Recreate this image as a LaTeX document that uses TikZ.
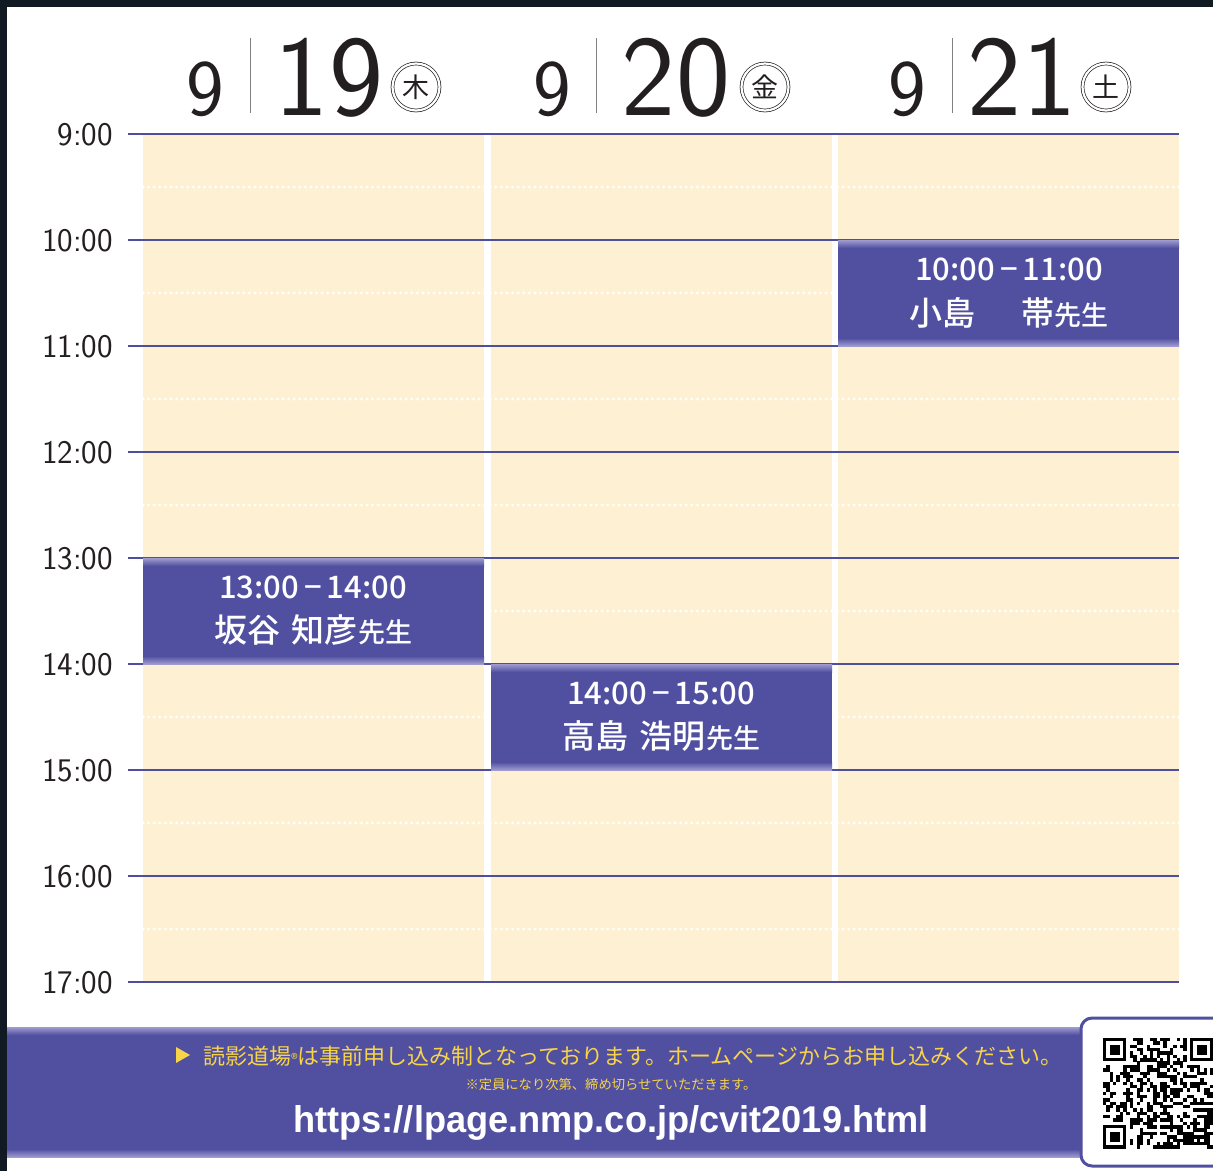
\documentclass[tikz,border=0pt]{standalone}
\usepackage{fontspec}
\usepackage{graphicx}
\newfontfamily\jpfont[BoldFont={Noto Sans CJK JP Medium}]{Noto Sans CJK JP}
\newfontfamily\urlfont{Liberation Sans}
\definecolor{evblue}{RGB}{81,80,160}
\definecolor{evlight}{RGB}{160,155,208}
\definecolor{hourblue}{RGB}{78,78,158}
\definecolor{cream}{RGB}{254,240,211}
\definecolor{framedark}{RGB}{17,26,34}
\definecolor{noteyellow}{RGB}{247,212,72}
\definecolor{inkgray}{RGB}{35,31,32}

\begin{document}
\begin{tikzpicture}[x=1pt, y=-1pt,
    hourline/.style={draw=hourblue, line width=1.3pt},
    halfdots/.style={draw=white, line width=3.2pt, line cap=round, dash pattern=on 0pt off 5.6pt},
    timelabel/.style={anchor=base east, inner sep=0pt, text=inkgray, font=\sffamily\fontsize{33}{33}\selectfont},
    daysmall/.style={anchor=base, inner sep=0pt, text=inkgray, font=\sffamily\fontsize{80}{80}\selectfont},
    daybig/.style={anchor=base, inner sep=0pt, text=inkgray, font=\sffamily\fontsize{115}{115}\selectfont},
    weekday/.style={circle, draw=inkgray, double, double distance=2.2pt, line width=0.7pt, minimum size=47pt, inner sep=0pt, text=inkgray, font=\jpfont\fontsize{27}{27}\selectfont},
    sepline/.style={draw=gray, line width=1pt},
    evtime/.style={anchor=base, inner sep=0pt, text=white, font=\jpfont\bfseries\fontsize{31}{31}\selectfont},
    evname/.style={anchor=base, inner sep=0pt, text=white, font=\jpfont\bfseries\fontsize{33}{33}\selectfont},
    note/.style={anchor=base west, inner sep=0pt, text=noteyellow, font=\jpfont\fontsize{22}{22}\selectfont},
    notesmall/.style={anchor=base, inner sep=0pt, text=noteyellow, font=\jpfont\fontsize{13.3}{13.3}\selectfont},
    urltext/.style={anchor=base, inner sep=0pt, text=white, font=\urlfont\bfseries}]
    \clip (0,0) rectangle (1213,1171);
    \fill[white] (0,0) rectangle (1213,1171);

    % day columns
    \foreach \x in {143,491,838} {
        \fill[cream] (\x,135) rectangle ++(341,846);
    }
    \foreach \i in {0,...,7} {
        \draw[halfdots] (143,{187+106*\i}) -- (1179,{187+106*\i});
    }
    \foreach \h [count=\i from 0] in {9,...,17} {
        \draw[hourline] (128,{134+106*\i}) -- (1179,{134+106*\i});
        \node[timelabel] (t\h) at (113,{145+106*\i}) {\h:00};
    }

    % header
    \node[daysmall] (m19) at (205,115) {9};
    \draw[sepline] (250,38) -- (250,113);
    \node[daybig] (d19) at (329,115) {19};
    \node[weekday] (w19) at (416,87) {木};

    \node[daysmall] (m20) at (552,115) {9};
    \draw[sepline] (596,38) -- (596,113);
    \node[daybig] (d20) at (676,115) {20};
    \node[weekday] (w20) at (765,87) {金};

    \node[daysmall] (m21) at (907,115) {9};
    \draw[sepline] (952,38) -- (952,113);
    \node[daybig] (d21) at (1022,115) {21};
    \node[weekday] (w21) at (1106,87) {土};

    % sessions
    \foreach \x/\y in {838/240, 143/558, 491/664} {
        \fill[evblue] (\x,\y) rectangle ++(341,106);
        \shade[top color=evlight, bottom color=evblue] (\x,\y) rectangle ++(341,8);
        \shade[top color=evblue, bottom color=evlight] (\x,{\y+98}) rectangle ++(341,8);
    }
    \node[evtime] (s1time) at (1009,280) {10:00\hspace{5pt}−\hspace{5pt}11:00};
    \node[evname] (s1name) at (1009,325) {小島\hspace{46pt}帯{\fontsize{27}{27}\selectfont 先生}};
    \node[evtime] (s2time) at (313,598) {13:00\hspace{5pt}−\hspace{5pt}14:00};
    \node[evname] (s2name) at (313,642) {坂谷\hspace{12pt}知彦{\fontsize{27}{27}\selectfont 先生}};
    \node[evtime] (s3time) at (661,704) {14:00\hspace{5pt}−\hspace{5pt}15:00};
    \node[evname] (s3name) at (661,748) {高島\hspace{12pt}浩明{\fontsize{27}{27}\selectfont 先生}};

    % banner
    \fill[evblue] (0,1027) rectangle (1100,1157);
    \shade[top color=evlight, bottom color=evblue] (0,1027) rectangle (1100,1035);
    \shade[top color=evblue, bottom color=evlight] (0,1149) rectangle (1100,1157);
    \fill[noteyellow] (176,1047) -- (190,1055) -- (176,1063) -- cycle;
    \node[note] (reg) at (203,1064) {読影道場{\fontsize{14}{14}\selectfont ®}は事前申し込み制となっております。ホームページからお申し込みください。};
    \node[notesmall] (cap) at (611,1089) {※定員になり次第、締め切らせていただきます。};
    \node[urltext] (url) at (611,1132) {\resizebox{635pt}{27pt}{https://lpage.nmp.co.jp/cvit2019.html}};

    % qr code
    \draw[draw=evblue, line width=3pt, fill=white, rounded corners=11pt] (1081,1018) rectangle (1230,1166);
    \pgfmathsetseed{2019}
    \foreach \i in {0,...,32} {
        \foreach \j in {0,...,32} {
            \pgfmathtruncatemacro{\infind}{((\i<8)&&(\j<8))||((\i>24)&&(\j<8))||((\i<8)&&(\j>24))}
            \pgfmathtruncatemacro{\bit}{rnd<0.5}
            \ifnum\infind=0 \ifnum\bit=1
                \fill[black] ({1103+3.35*\i},{1038+3.35*\j}) rectangle ++(3.4,3.4);
            \fi\fi
        }
    }
    \foreach \fx/\fy in {0/0, 26/0, 0/26} {
        \fill[black] ({1103+3.35*\fx},{1038+3.35*\fy}) rectangle ++(23.45,23.45);
        \fill[white] ({1106.35+3.35*\fx},{1041.35+3.35*\fy}) rectangle ++(16.75,16.75);
        \fill[black] ({1109.7+3.35*\fx},{1044.7+3.35*\fy}) rectangle ++(10.05,10.05);
    }

    % frame
    \fill[framedark] (0,0) rectangle (1213,7);
    \fill[framedark] (0,0) rectangle (7,1171);
\end{tikzpicture}
\end{document}
